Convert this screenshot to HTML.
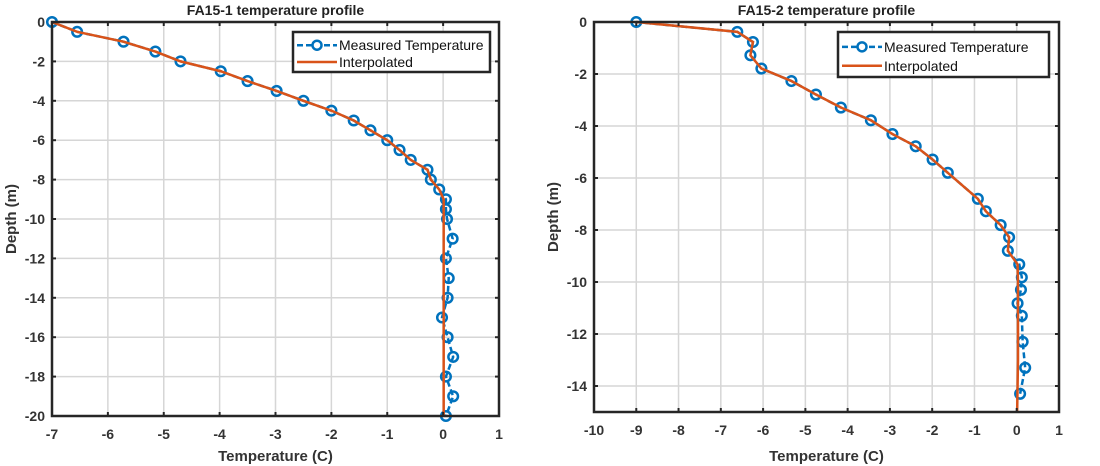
<!DOCTYPE html>
<html><head><meta charset="utf-8"><style>
body{margin:0;background:#fff;}
svg{display:block;font-family:"Liberation Sans",Arial,sans-serif;}
</style></head><body>
<svg id="fig" width="1100" height="466" xmlns="http://www.w3.org/2000/svg"></svg>
<script>
// ---- FA15-1 data ----
const p1Temp = [-7,-6.55,-5.72,-5.15,-4.7,-3.98,-3.5,-2.98,-2.5,-2,-1.6,-1.3,-1,-0.78,-0.58,-0.28,-0.22,-0.07,0.05,0.05,0.07,0.17,0.05,0.1,0.08,-0.02,0.08,0.18,0.05,0.18,0.05];
const p1Depth = [0,-0.5,-1,-1.5,-2,-2.5,-3,-3.5,-4,-4.5,-5,-5.5,-6,-6.5,-7,-7.5,-8,-8.5,-9,-9.5,-10,-11,-12,-13,-14,-15,-16,-17,-18,-19,-20];
const p1InterpTemp = [-7,-6.55,-5.72,-5.15,-4.7,-3.98,-3.5,-2.98,-2.5,-2,-1.6,-1.3,-1,-0.78,-0.58,-0.28,-0.22,-0.07,0.01,0.01,0.01];
const p1InterpDepth = [0,-0.5,-1,-1.5,-2,-2.5,-3,-3.5,-4,-4.5,-5,-5.5,-6,-6.5,-7,-7.5,-8,-8.5,-9,-15,-20];
const p1XTicks = [-7,-6,-5,-4,-3,-2,-1,0,1];
const p1YTicks = [0,-2,-4,-6,-8,-10,-12,-14,-16,-18,-20];
// ---- FA15-2 data ----
const p2Temp = [-9,-6.61,-6.24,-6.3,-6.04,-5.33,-4.75,-4.16,-3.45,-2.94,-2.39,-1.99,-1.63,-0.92,-0.73,-0.38,-0.18,-0.21,0.06,0.12,0.1,0.02,0.12,0.14,0.2,0.08];
const p2Depth = [0,-0.38,-0.77,-1.28,-1.79,-2.27,-2.79,-3.29,-3.78,-4.31,-4.78,-5.29,-5.8,-6.8,-7.28,-7.81,-8.28,-8.8,-9.32,-9.82,-10.3,-10.82,-11.3,-12.3,-13.3,-14.3];
const p2InterpTemp = [-9,-6.61,-6.24,-6.3,-6.04,-5.33,-4.75,-4.16,-3.45,-2.94,-2.39,-1.99,-1.63,-0.92,-0.73,-0.38,-0.18,-0.21,0.02,0.03,0.03,0.01];
const p2InterpDepth = [0,-0.38,-0.77,-1.28,-1.79,-2.27,-2.79,-3.29,-3.78,-4.31,-4.78,-5.29,-5.8,-6.8,-7.28,-7.81,-8.28,-8.8,-9.32,-10,-13,-15];
const p2XTicks = [-10,-9,-8,-7,-6,-5,-4,-3,-2,-1,0,1];
const p2YTicks = [0,-2,-4,-6,-8,-10,-12,-14];

const NS="http://www.w3.org/2000/svg";
const svg=document.getElementById('fig');
function mk(tag,attrs,parent){const e=document.createElementNS(NS,tag);for(const k in attrs)e.setAttribute(k,attrs[k]);(parent||svg).appendChild(e);return e;}

function drawPanel(cfg){
  const g=mk('g',{});
  
  
  const sx=v=>cfg.x0+(v-cfg.xmin)/(cfg.xmax-cfg.xmin)*(cfg.x1-cfg.x0);
  const sy=v=>cfg.y0+(cfg.ymax-v)/(cfg.ymax-cfg.ymin)*(cfg.y1-cfg.y0);
  cfg.xt.forEach(t=>{
    const l=mk('line',{x1:sx(t),x2:sx(t),y1:cfg.y0,y2:cfg.y1,stroke:'#d6d6d6','stroke-width':1.5},g);
    
    
  });
  cfg.yt.forEach(t=>{
    const l=mk('line',{x1:cfg.x0,x2:cfg.x1,y1:sy(t),y2:sy(t),stroke:'#d6d6d6','stroke-width':1.5},g);
    
    
  });
  const ip=cfg.it.map((t,i)=>sx(t)+','+sy(cfg.id[i])).join(' ');
  const mp=cfg.mt.map((t,i)=>sx(t)+','+sy(cfg.md[i])).join(' ');
  const ml=mk('polyline',{points:mp,fill:'none',stroke:'#0072bd','stroke-width':2.5,'stroke-dasharray':'6,3'},g);
  
  
  cfg.mt.forEach((t,i)=>{
    const c=mk('circle',{cx:sx(t),cy:sy(cfg.md[i]),r:4.8,fill:'none',stroke:'#0072bd','stroke-width':2.5},g);
    
    
  });
  const il=mk('polyline',{points:ip,fill:'none',stroke:'#d95319','stroke-width':2.5},g);
  
  
  const box=mk('rect',{x:cfg.x0,y:cfg.y0,width:cfg.x1-cfg.x0,height:cfg.y1-cfg.y0,fill:'none',stroke:'#262626','stroke-width':2.5},g);
  
  
  cfg.xt.forEach(t=>{
    mk('line',{x1:sx(t),x2:sx(t),y1:cfg.y1,y2:cfg.y1-4,stroke:'#262626','stroke-width':2},g);
    mk('line',{x1:sx(t),x2:sx(t),y1:cfg.y0,y2:cfg.y0+4,stroke:'#262626','stroke-width':2},g);
    const tx=mk('text',{x:sx(t),y:cfg.y1+23,'text-anchor':'middle','font-size':14,'font-weight':'bold',fill:'#333'},g);
    tx.textContent=t;
    
    
  });
  cfg.yt.forEach(t=>{
    mk('line',{x1:cfg.x0,x2:cfg.x0+4,y1:sy(t),y2:sy(t),stroke:'#262626','stroke-width':2},g);
    mk('line',{x1:cfg.x1,x2:cfg.x1-4,y1:sy(t),y2:sy(t),stroke:'#262626','stroke-width':2},g);
    const ty=mk('text',{x:cfg.x0-7,y:sy(t)+5,'text-anchor':'end','font-size':14,'font-weight':'bold',fill:'#333'},g);
    ty.textContent=t;
    
    
  });
  const ti=mk('text',{x:(cfg.x0+cfg.x1)/2,y:15,'text-anchor':'middle','font-size':14,'font-weight':'bold',fill:'#222'},g);
  ti.textContent=cfg.title;
  
  
  const xl=mk('text',{x:(cfg.x0+cfg.x1)/2,y:461,'text-anchor':'middle','font-size':15,'font-weight':'bold',fill:'#333'},g);
  xl.textContent='Temperature (C)';
  
  
  const yc=(cfg.y0+cfg.y1)/2;
  const yl=mk('text',{x:cfg.ylx,y:yc,'text-anchor':'middle','font-size':15,'font-weight':'bold',fill:'#333',transform:`rotate(-90 ${cfg.ylx} ${yc})`},g);
  yl.textContent='Depth (m)';
  
  
  const L=cfg.leg;
  const lg=mk('g',{},g);
  
  
  mk('rect',{x:L.x,y:L.y,width:L.w,height:L.h,fill:'#fff',stroke:'#262626','stroke-width':2.5},lg);
  const r1=L.y+L.h*0.33, r2=L.y+L.h*0.75;
  mk('line',{x1:L.x+4,x2:L.x+44,y1:r1,y2:r1,stroke:'#0072bd','stroke-width':2.5,'stroke-dasharray':'6,3'},lg);
  mk('circle',{cx:L.x+24,cy:r1,r:4.5,fill:'#fff',stroke:'#0072bd','stroke-width':2.5},lg);
  mk('line',{x1:L.x+4,x2:L.x+44,y1:r2,y2:r2,stroke:'#d95319','stroke-width':2.5},lg);
  const e1=mk('text',{x:L.x+46,y:r1+5,'font-size':14,fill:'#111'},lg);
  e1.textContent='Measured Temperature';
  
  
  const e2=mk('text',{x:L.x+46,y:r2+5,'font-size':14,fill:'#111'},lg);
  e2.textContent='Interpolated';
  
  
}

drawPanel({name:'fa15-1-chart',title:'FA15-1 temperature profile',x0:52,x1:499,y0:22,y1:416,xmin:-7,xmax:1,ymin:-20,ymax:0,
  xt:p1XTicks,yt:p1YTicks,mt:p1Temp,md:p1Depth,it:p1InterpTemp,id:p1InterpDepth,ylx:16,leg:{x:293,y:32,w:197,h:40}});
drawPanel({name:'fa15-2-chart',title:'FA15-2 temperature profile',x0:594,x1:1059,y0:22,y1:412,xmin:-10,xmax:1,ymin:-15,ymax:0,
  xt:p2XTicks,yt:p2YTicks,mt:p2Temp,md:p2Depth,it:p2InterpTemp,id:p2InterpDepth,ylx:558,leg:{x:838,y:32,w:211,h:45}});
</script>
</body></html>
